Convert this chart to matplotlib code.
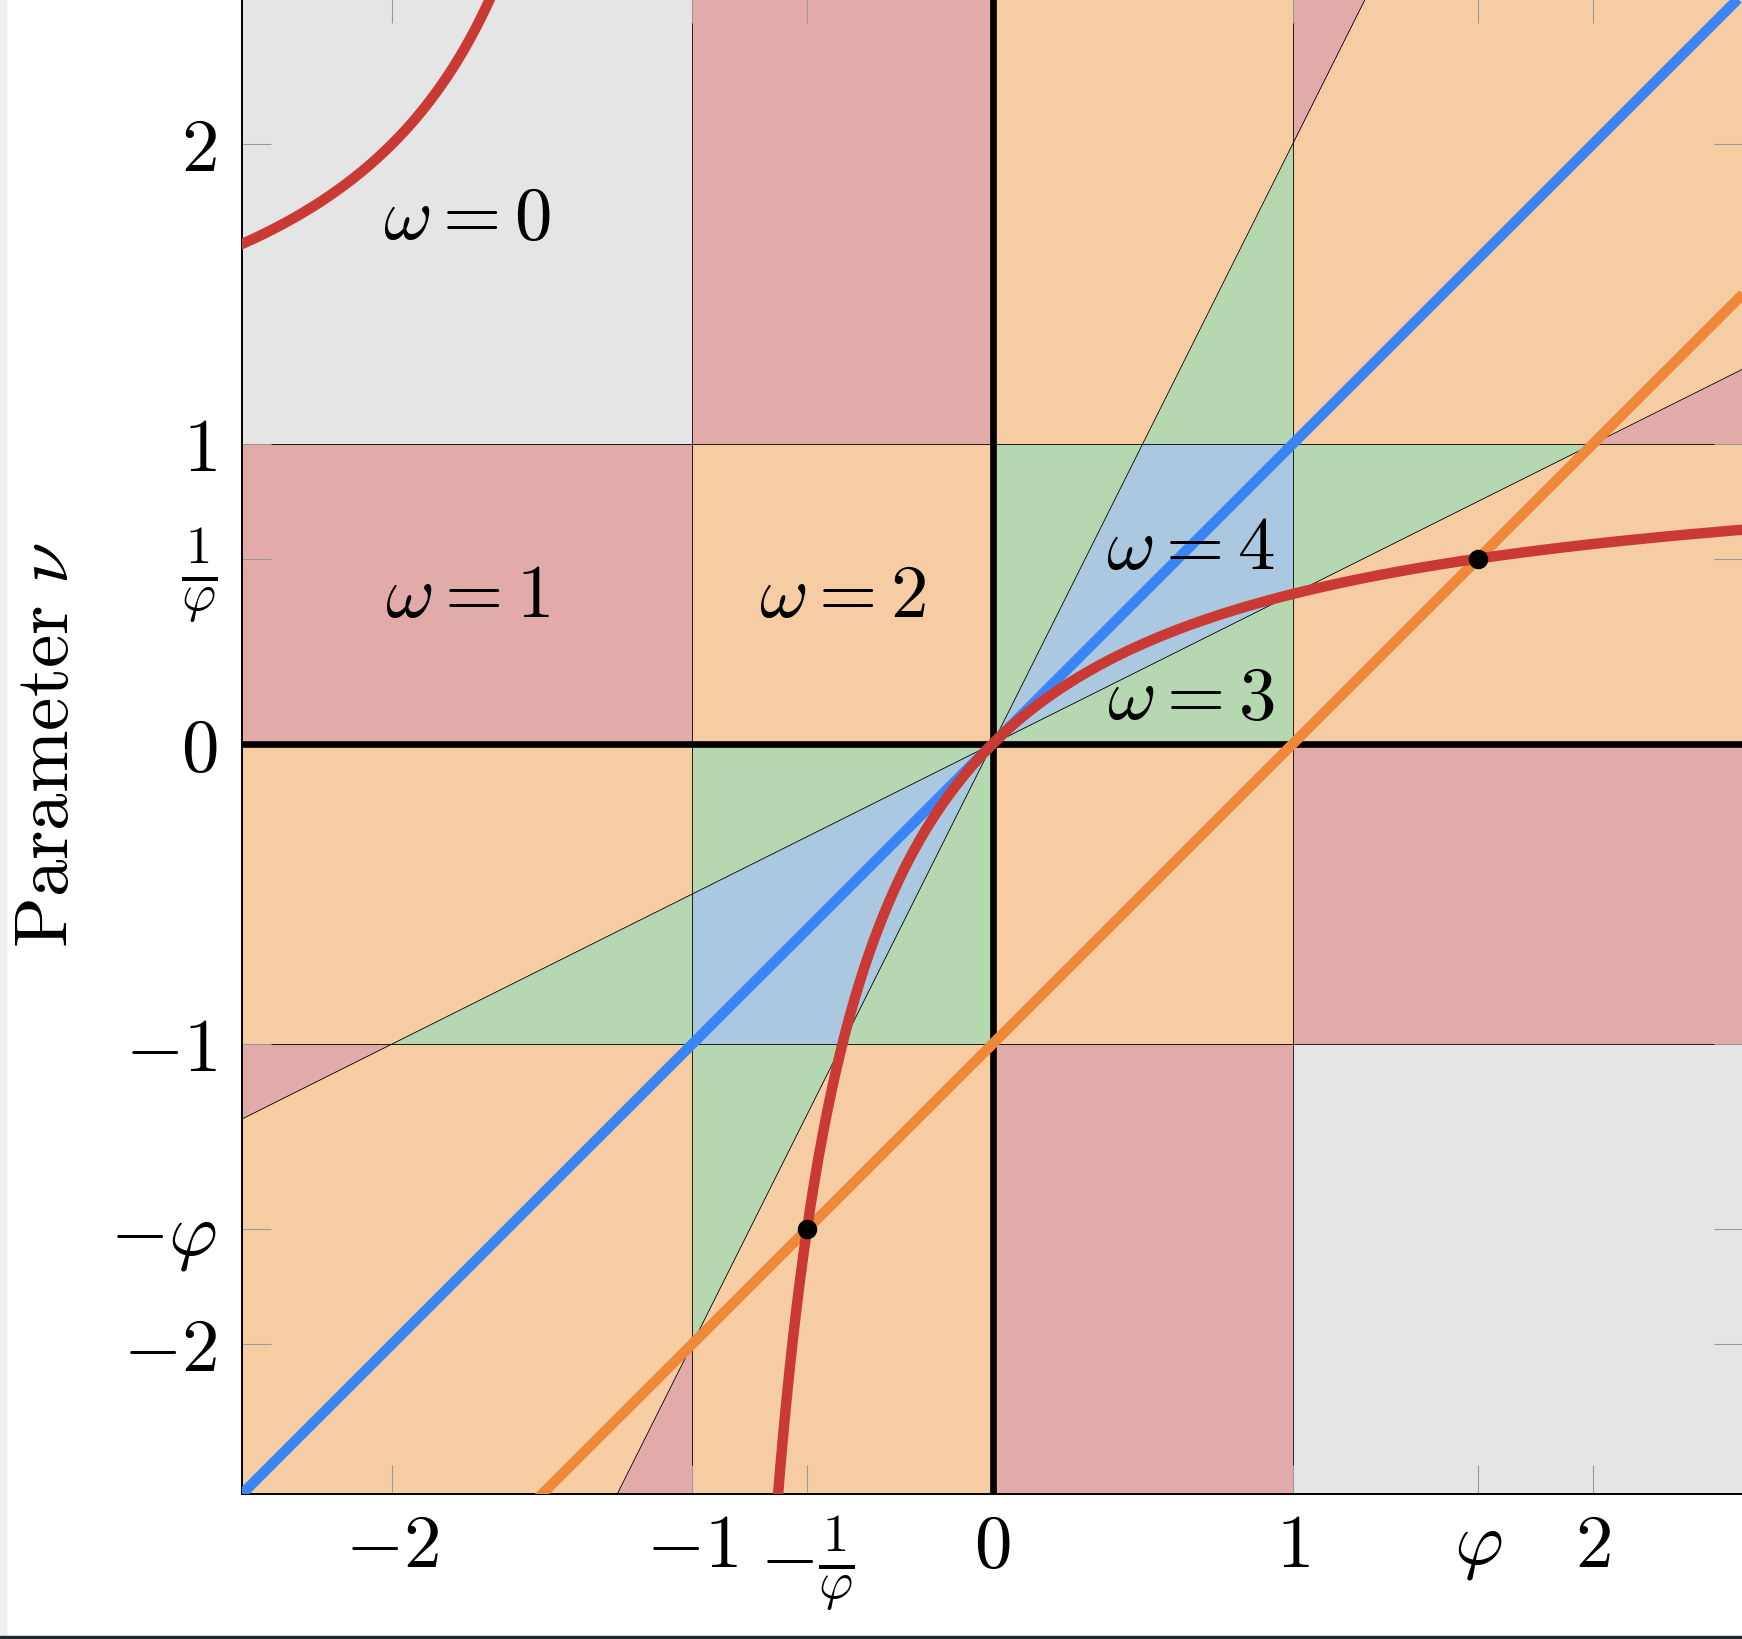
import numpy as np
import matplotlib
matplotlib.use("Agg")
import matplotlib.pyplot as plt
from matplotlib.colors import ListedColormap
from matplotlib.patches import Rectangle

plt.rcParams["mathtext.fontset"] = "cm"
plt.rcParams["font.family"] = ["cmr10", "DejaVu Serif"]
plt.rcParams["axes.unicode_minus"] = False

PHI = (1 + np.sqrt(5)) / 2

# region boundaries and colours (omega = 0..4)
box_edges = [-1.0, 1.0]
wedge_slopes = [0.5, 2.0]
omega_values = [0, 1, 2, 3, 4]
omega_colors = ["#e5e5e5", "#e3aaaa", "#f6cda3", "#b6d8b0", "#aac8df"]

# omega labels
omega_text = [r"$\omega = 0$", r"$\omega = 1$", r"$\omega = 2$", r"$\omega = 4$", r"$\omega = 3$"]
omega_pos = [(-1.75, 1.75), (-1.75, 0.49), (-0.5, 0.49), (0.66, 0.65), (0.66, 0.15)]

# ticks
xticks = [-2, -1, -1 / PHI, 0, 1, PHI, 2]
xticklabels = [r"$-2$", r"$-1$", r"$-\frac{1}{\varphi}$", r"$0$", r"$1$", r"$\varphi$", r"$2$"]
yticks = [-2, -PHI, -1, 0, 1 / PHI, 1, 2]
yticklabels = [r"$-2$", r"$-\varphi$", r"$-1$", r"$0$", r"$\frac{1}{\varphi}$", r"$1$", r"$2$"]

# lines: nu = mu (blue), nu = mu - 1 (orange), nu = mu / (1 + mu) (red)
diag_offsets = [0.0, -1.0]
diag_colors = ["#3a85f5", "#f0883a"]
red_color = "#c83a33"
points_x = [PHI, -1 / PHI]
points_y = [1 / PHI, -PHI]

lim = 2.5


def omega(x, y):
    inside_x = (np.abs(x) < box_edges[1]).astype(int)
    inside_y = (np.abs(y) < box_edges[1]).astype(int)
    same_sign = (x * y > 0).astype(int)
    with np.errstate(divide="ignore", invalid="ignore"):
        ratio = y / x
    in_wedge = ((ratio > wedge_slopes[0]) & (ratio < wedge_slopes[1])).astype(int)
    return inside_x + inside_y + same_sign + in_wedge


def main() -> None:
    fig = plt.figure(figsize=(17.42, 16.40), dpi=100)
    ax = fig.add_axes([242 / 1742, 145 / 1640, 1501 / 1742, 1500 / 1640])

    n = 2000
    g = np.linspace(-lim, lim, n)
    gx, gy = np.meshgrid(g, g)
    w = omega(gx, gy)
    ax.imshow(w, origin="lower", extent=[-lim, lim, -lim, lim],
              cmap=ListedColormap(omega_colors), vmin=-0.5, vmax=4.5,
              interpolation="nearest", aspect="auto", zorder=0)

    # thin region boundaries
    for e in box_edges:
        ax.axvline(e, color="black", lw=0.6, zorder=1)
        ax.axhline(e, color="black", lw=0.6, zorder=1)
    xs = np.array([-lim, lim])
    for s in wedge_slopes:
        ax.plot(xs, s * xs, color="black", lw=0.6, zorder=1)

    # coordinate axes
    ax.axvline(0, color="black", lw=4.8, zorder=2)
    ax.axhline(0, color="black", lw=4.8, zorder=2)

    for off, c in zip(diag_offsets, diag_colors):
        ax.plot(xs, xs + off, color=c, lw=7.5, zorder=3, solid_capstyle="butt")

    x1 = np.linspace(-lim, -1.3, 400)
    x2 = np.linspace(-0.75, lim, 1200)
    for xx in (x1, x2):
        ax.plot(xx, xx / (1 + xx), color=red_color, lw=7.5, zorder=4)

    ax.plot(points_x, points_y, "o", color="black", ms=13, zorder=5)

    for t, (px, py) in zip(omega_text, omega_pos):
        ax.text(px, py, t, fontsize=54, ha="center", va="center", zorder=6)

    ax.set_xlim(-lim, lim)
    ax.set_ylim(-lim, lim)
    ax.set_xticks(xticks)
    ax.set_xticklabels(xticklabels)
    ax.set_yticks(yticks)
    ax.set_yticklabels(yticklabels)
    ax.tick_params(direction="in", length=21, width=0.8, color="#999999",
                   labelsize=54, top=True, right=True)
    ax.tick_params(axis="x", pad=14)
    ax.tick_params(axis="y", pad=18)
    for sp in ax.spines.values():
        sp.set_linewidth(1.4)

    ax.set_ylabel(r"$\mathrm{Parameter}\ \nu$", fontsize=54)
    ax.yaxis.set_label_coords(-0.106, 0.5)

    # screenshot frame
    fig.patches.append(Rectangle((0, 0), 6 / 1742, 1, transform=fig.transFigure,
                                 color="#efefef", zorder=10))
    fig.patches.append(Rectangle((0, 0), 1, 3 / 1640, transform=fig.transFigure,
                                 color="#1e2a30", zorder=10))

    fig.savefig("out.png", dpi=100)
    plt.close(fig)


if __name__ == "__main__":
    main()
